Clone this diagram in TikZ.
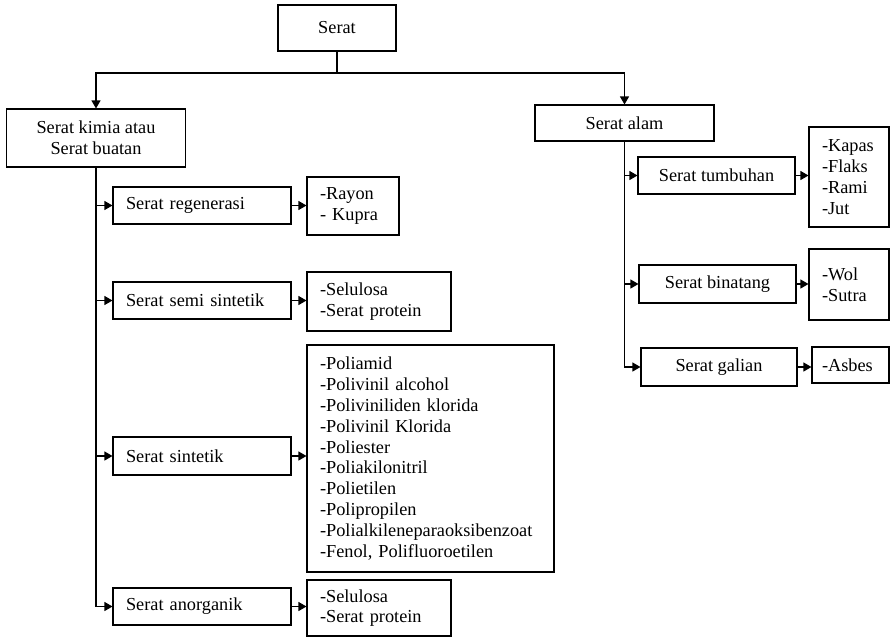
\documentclass[tikz,border=0pt]{standalone}
\usepackage{fontspec}
\setmainfont{Liberation Serif}
\usetikzlibrary{arrows.meta}
\begin{document}
\begin{tikzpicture}[x=1pt,y=-1pt,
  every node/.style={font={\fontsize{18.3}{20.8}\selectfont}},
  bx/.style={draw, line width=1.1pt, inner sep=0pt, anchor=center},
  cbox/.style={bx, align=center},
  lbox/.style={bx, inner xsep=13pt, align=left},
  arr/.style={line width=1.1pt, -{Triangle[length=8pt,width=9pt]}},
  ln/.style={line width=1.1pt}]
\useasboundingbox (0,0) rectangle (890,637);
% top
\node[cbox, minimum width=118pt, minimum height=46pt] (serat) at (337,28) {Serat};
\node[cbox, minimum width=179pt, minimum height=58pt] (kimia) at (96,138) {Serat kimia atau\\Serat buatan};
\node[cbox, minimum width=179pt, minimum height=36pt] (alam) at (624.5,123) {Serat alam};
\coordinate (j) at (337,73);
\draw[ln] (serat.south) -- (j);
\draw[arr] (j) -| (kimia.north);
\draw[arr] (j) -| (alam.north);
% left middle boxes
\node[lbox, minimum height=37pt, text width=152pt] (regen) at (202,205.5) {Serat regenerasi};
\node[lbox, minimum height=37pt, text width=152pt] (semi) at (202,300.5) {Serat semi sintetik};
\node[lbox, minimum height=38pt, text width=152pt] (sint) at (202,456) {Serat sintetik};
\node[lbox, minimum height=37pt, text width=152pt] (anorg) at (202,606.5) {Serat anorganik};
% left leaves
\node[lbox, minimum height=58pt, text width=66pt] (rayon) at (353,206) {-Rayon\\- Kupra};
\node[lbox, minimum height=59pt, text width=118pt] (sel1) at (379,301.5) {-Selulosa\\-Serat protein};
\node[lbox, minimum height=227pt, text width=221pt] (big) at (430.5,458.5) {-Poliamid\\-Polivinil alcohol\\-Poliviniliden klorida\\-Polivinil Klorida\\-Poliester\\-Poliakilonitril\\-Polietilen\\-Polipropilen\\-Polialkileneparaoksibenzoat\\-Fenol, Polifluoroetilen};
\node[lbox, minimum height=56pt, text width=118pt] (sel2) at (379,608) {-Selulosa\\-Serat protein};
% left connectors
\foreach \c in {regen,semi,sint,anorg}{\draw[arr] (kimia.south) |- (\c.west);}
\draw[arr] (regen.east) -- (regen.east -| rayon.west);
\draw[arr] (semi.east) -- (semi.east -| sel1.west);
\draw[arr] (sint.east) -- (sint.east -| big.west);
\draw[arr] (anorg.east) -- (anorg.east -| sel2.west);
% right middle boxes
\node[cbox, minimum width=157pt, minimum height=37pt] (tumb) at (716.5,175.5) {Serat tumbuhan};
\node[cbox, minimum width=157pt, minimum height=38pt] (bin) at (717.5,284) {Serat binatang};
\node[cbox, minimum width=156pt, minimum height=38pt] (gal) at (719,367) {Serat galian};
% right leaves
\node[lbox, minimum height=100pt, text width=54pt] (kapas) at (849,177) {-Kapas\\-Flaks\\-Rami\\-Jut};
\node[lbox, minimum height=71pt, text width=54pt] (wol) at (849,284.5) {-Wol\\-Sutra};
\node[lbox, minimum height=36pt, text width=57pt, inner xsep=10pt] (asbes) at (850.5,365) {-Asbes};
% right connectors
\foreach \c in {tumb,bin,gal}{\draw[arr] (alam.south) |- (\c.west);}
\draw[arr] (tumb.east) -- (tumb.east -| kapas.west);
\draw[arr] (bin.east) -- (bin.east -| wol.west);
\draw[arr] (gal.east) -- (gal.east -| asbes.west);
\end{tikzpicture}
\end{document}
